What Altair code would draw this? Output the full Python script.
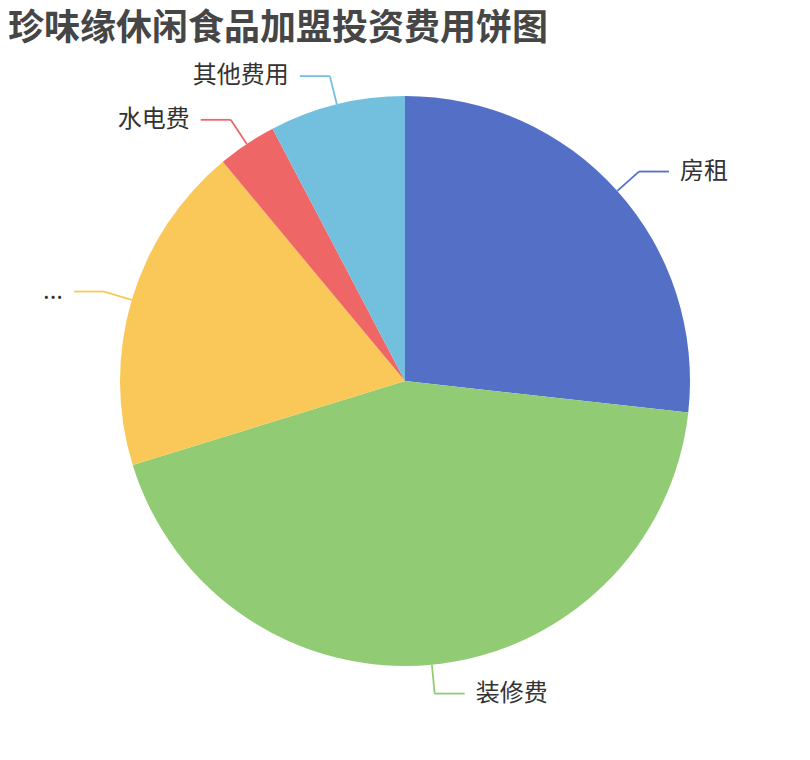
import altair as alt
import pandas as pd

# ---- data ----
categories = ["房租", "装修费", "...", "水电费", "其他费用"]
values = [8, 13, 5.6, 1, 2.3]
colors = ["#5470c6", "#91cc75", "#fac858", "#ee6666", "#73c0de"]
title_text = "珍味缘休闲食品加盟投资费用饼图"

df = pd.DataFrame({"idx": list(range(len(categories))), "name": categories, "value": values})

# ---- layout constants ----
W, H = 794, 646
CX, CY = W / 2, H / 2
R = 285      # pie radius
R2 = 314     # end of radial leader segment
L2 = 30      # horizontal leader segment
GAP = 11     # gap between leader and text
FONT = "Noto Sans CJK SC"

color = alt.Color("name:N", scale=alt.Scale(domain=categories, range=colors), legend=None)
base = alt.Chart(df)

pie = base.mark_arc(outerRadius=R).encode(
    theta=alt.Theta("value:Q", stack=True),
    color=color,
    order=alt.Order("idx:Q"),
)

geo = (
    base.transform_joinaggregate(total="sum(value)")
    .transform_window(cum="sum(value)", sort=[alt.SortField("idx")], frame=[None, 0])
    .transform_calculate(mid="(datum.cum - datum.value/2) / datum.total * 2 * PI")
    .transform_calculate(
        side="sin(datum.mid) >= 0 ? 1 : -1",
        x0=f"{CX} + {R} * sin(datum.mid)",
        y0=f"{CY} - {R} * cos(datum.mid)",
        x1=f"{CX} + {R2} * sin(datum.mid)",
        y1=f"{CY} - {R2} * cos(datum.mid)",
    )
    .transform_calculate(
        x2=f"datum.x1 + datum.side * {L2}",
        tx=f"datum.x1 + datum.side * {L2 + GAP}",
    )
)

seg1 = geo.mark_rule(strokeWidth=1.8).encode(
    x=alt.X("x0:Q", scale=None),
    y=alt.Y("y0:Q", scale=None),
    x2="x1:Q",
    y2="y1:Q",
    color=color,
)
seg2 = geo.mark_rule(strokeWidth=1.8).encode(
    x=alt.X("x1:Q", scale=None),
    y=alt.Y("y1:Q", scale=None),
    x2="x2:Q",
    y2="y1:Q",
    color=color,
)
txt_r = geo.transform_filter("datum.side > 0").mark_text(
    align="left", baseline="middle", fontSize=24, font=FONT, color="#333333"
).encode(x=alt.X("tx:Q", scale=None), y=alt.Y("y1:Q", scale=None), text="name:N")
txt_l = geo.transform_filter("datum.side < 0").mark_text(
    align="right", baseline="middle", fontSize=24, font=FONT, color="#333333"
).encode(x=alt.X("tx:Q", scale=None), y=alt.Y("y1:Q", scale=None), text="name:N")

chart = (
    alt.layer(pie, seg1, seg2, txt_r, txt_l)
    .properties(
        width=W,
        height=H,
        padding={"top": 3, "left": 0, "right": 0, "bottom": 0},
        title=alt.Title(
            title_text,
            anchor="start",
            fontSize=36,
            font=FONT,
            fontWeight="bold",
            color="#464646",
            offset=10,
        ),
    )
    .configure_view(stroke=None)
)

chart.save("out.html", embed_options={"renderer": "svg", "actions": False})
